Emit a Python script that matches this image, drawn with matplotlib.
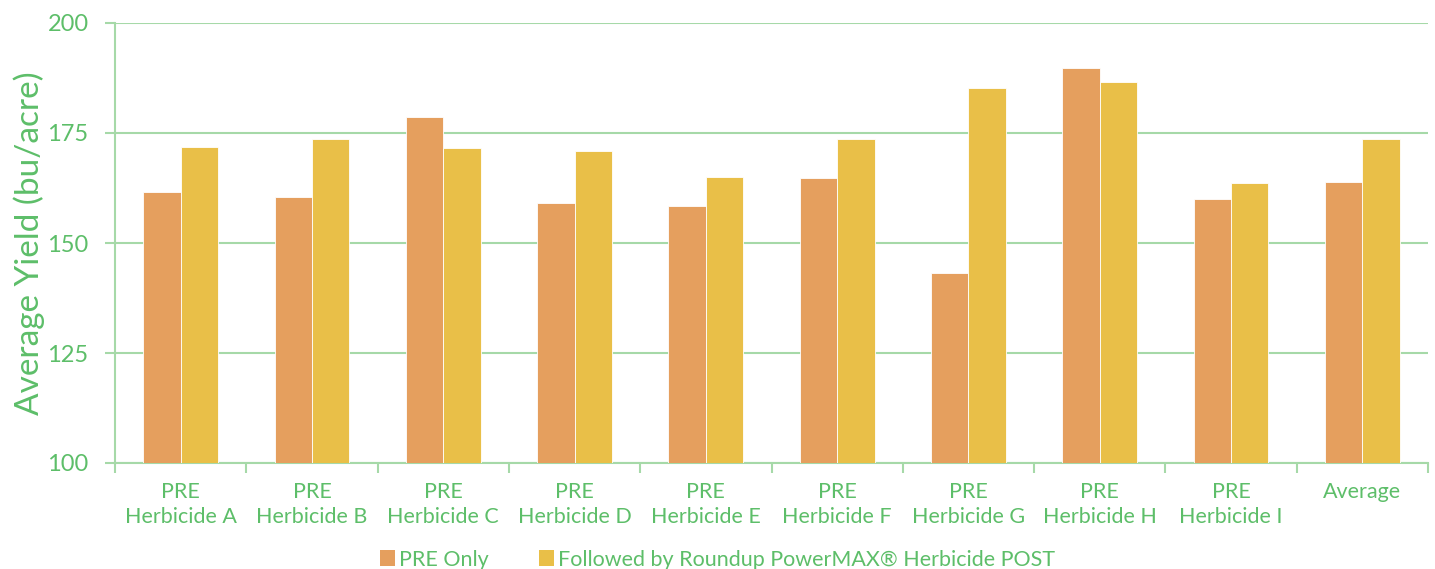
import matplotlib
matplotlib.use("Agg")
import matplotlib.pyplot as plt
import numpy as np
from matplotlib.patches import Patch

categories = ["PRE\nHerbicide A", "PRE\nHerbicide B", "PRE\nHerbicide C", "PRE\nHerbicide D",
              "PRE\nHerbicide E", "PRE\nHerbicide F", "PRE\nHerbicide G", "PRE\nHerbicide H",
              "PRE\nHerbicide I", "Average"]
pre_only = [161.7, 160.5, 178.7, 159.1, 158.4, 164.7, 143.2, 189.8, 160.1, 163.9]
roundup_post = [171.8, 173.7, 171.7, 170.9, 165.0, 173.7, 185.2, 186.7, 163.6, 173.7]
y_ticks = [100, 125, 150, 175, 200]

series_names = ["PRE Only", "Followed by Roundup PowerMAX® Herbicide POST"]
c_orange = "#E59F5E"
c_yellow = "#E9BF48"
c_green = "#5DBE69"
c_grid = "#A6D9A8"

plt.rcParams['font.family'] = ['Lato', 'DejaVu Sans']

fig = plt.figure(figsize=(14.35, 5.69), dpi=100)
ax = fig.add_axes([115/1435, 1-463/569, (1428-115)/1435, (463-23)/569])

x = np.arange(len(categories))
w = 0.285
ax.bar(x - w/2, pre_only, width=w, color=c_orange, edgecolor="white", linewidth=0.6, zorder=3)
ax.bar(x + w/2, roundup_post, width=w, color=c_yellow, edgecolor="white", linewidth=0.6, zorder=3)

ax.set_ylim(100, 200)
ax.set_xlim(-0.5, len(categories) - 0.5)
ax.set_yticks(y_ticks)
ax.set_yticklabels([str(t) for t in y_ticks])
ax.yaxis.grid(True, color=c_grid, linewidth=1.5, zorder=0)
ax.tick_params(axis='y', colors=c_grid, length=7, width=1.5, pad=12, labelsize=17, labelcolor=c_green)

ax.set_xticks(x)
ax.set_xticklabels(categories, color=c_green, fontsize=15.5, linespacing=1.3)
ax.tick_params(axis='x', which='major', length=0, pad=14)
ax.set_xticks(np.arange(-0.5, len(categories)), minor=True)
ax.tick_params(axis='x', which='minor', colors=c_grid, length=7, width=1.5)

for s in ["top", "right"]:
    ax.spines[s].set_visible(False)
for s in ["left", "bottom"]:
    ax.spines[s].set_color(c_grid)
    ax.spines[s].set_linewidth(1.5)

ax.set_ylabel("Average Yield (bu/acre)", color=c_green, fontsize=24, labelpad=2)

handles = [Patch(facecolor=c_orange), Patch(facecolor=c_yellow)]
leg = fig.legend(handles, series_names, loc="lower center", bbox_to_anchor=(0.5, -0.035), ncol=2,
                 frameon=False, fontsize=15.5, handlelength=0.7, handleheight=0.7,
                 handletextpad=0.2, columnspacing=2.3)
for t in leg.get_texts():
    t.set_color(c_green)

fig.savefig("out.png", dpi=100)
